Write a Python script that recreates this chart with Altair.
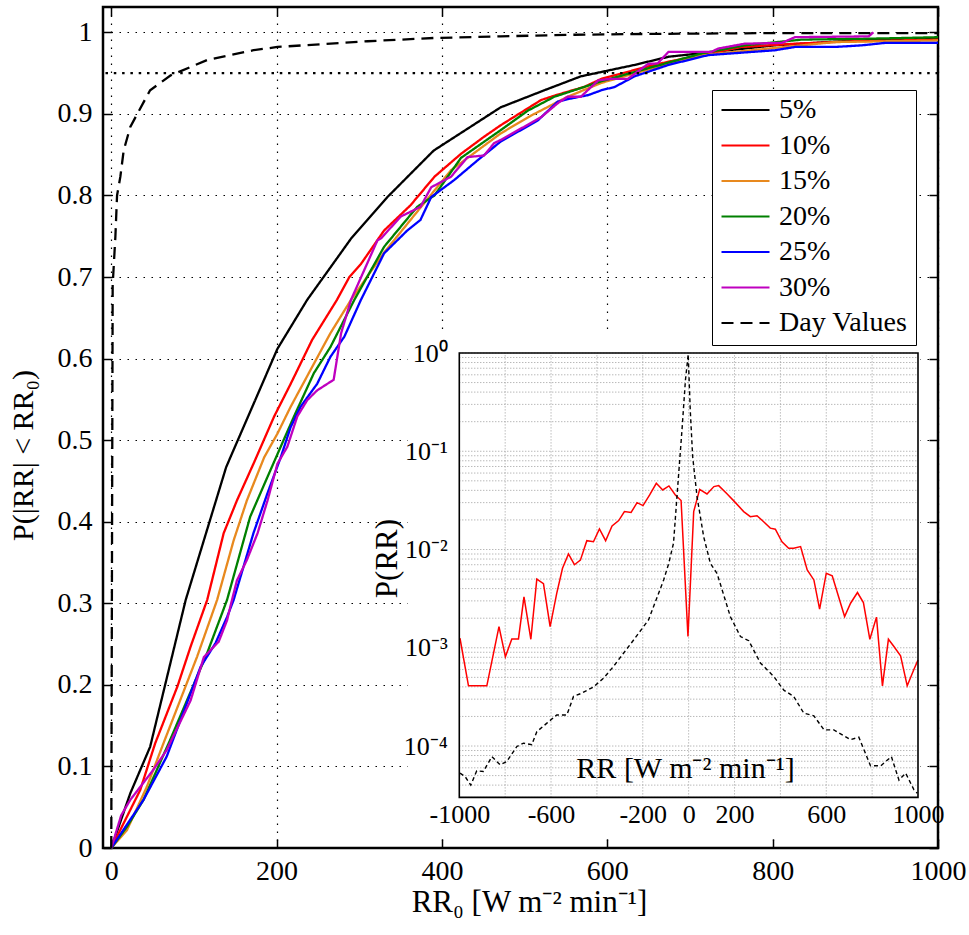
import altair as alt
import pandas as pd

FONT = "Liberation Serif"

# ---------------- main chart data: CDF of |RR| ----------------
series_names = ["5%", "10%", "15%", "20%", "25%", "30%", "Day Values"]
series_colors = ["#000000", "#ff0000", "#e8891e", "#008000", "#0000ff", "#bf00bf", "#000000"]
series_dashes = [[1, 0], [1, 0], [1, 0], [1, 0], [1, 0], [1, 0], [12, 7]]

s5_x = [0, 23, 47, 90, 139, 201, 237, 290, 334, 390, 471, 524, 568, 633, 674, 802, 900, 1000]
s5_p = [0, 0.067, 0.124, 0.304, 0.467, 0.612, 0.672, 0.747, 0.798, 0.855, 0.908, 0.929, 0.946,
        0.960, 0.970, 0.984, 0.990, 0.993]

s10_x = [0, 35, 53, 80, 96, 116, 136, 152, 172, 197, 217, 243, 273, 288, 302, 330, 362, 391, 423,
         451, 471, 520, 538, 572, 593, 645, 674, 714, 762, 827, 896, 1000]
s10_p = [0, 0.071, 0.128, 0.198, 0.247, 0.304, 0.386, 0.426, 0.471, 0.529, 0.569, 0.623, 0.672,
         0.700, 0.716, 0.757, 0.788, 0.823, 0.851, 0.872, 0.886, 0.917, 0.923, 0.933, 0.943,
         0.957, 0.964, 0.972, 0.982, 0.986, 0.989, 0.991]

s15_x = [0, 19, 43, 63, 104, 128, 148, 164, 185, 201, 217, 241, 265, 290, 330, 370, 411, 471, 508,
         552, 593, 645, 714, 795, 875, 1000]
s15_p = [0, 0.022, 0.075, 0.128, 0.235, 0.304, 0.377, 0.426, 0.479, 0.508, 0.541, 0.586, 0.631,
         0.672, 0.730, 0.780, 0.831, 0.876, 0.898, 0.921, 0.938, 0.953, 0.972, 0.980, 0.988, 0.990]

s20_x = [0, 19, 39, 71, 116, 140, 168, 189, 205, 221, 245, 265, 294, 330, 370, 391, 423, 471, 504,
         536, 593, 653, 714, 766, 835, 907, 958, 1000]
s20_p = [0, 0.026, 0.059, 0.132, 0.239, 0.304, 0.406, 0.455, 0.492, 0.529, 0.582, 0.614, 0.672,
         0.737, 0.786, 0.800, 0.846, 0.880, 0.904, 0.921, 0.940, 0.957, 0.974, 0.984, 0.991,
         0.992, 0.993, 0.994]

s25_x = [0, 39, 67, 108, 126, 140, 148, 172, 189, 205, 217, 229, 249, 265, 282, 302, 330, 358, 374,
         387, 415, 443, 471, 516, 540, 552, 577, 593, 609, 633, 674, 722, 803, 827, 875, 908, 936, 1000]
s25_p = [0, 0.059, 0.112, 0.222, 0.251, 0.283, 0.304, 0.386, 0.435, 0.479, 0.516, 0.541, 0.569,
         0.602, 0.627, 0.672, 0.729, 0.757, 0.770, 0.798, 0.819, 0.843, 0.866, 0.892, 0.915,
         0.918, 0.923, 0.929, 0.933, 0.946, 0.960, 0.972, 0.978, 0.982, 0.982, 0.984, 0.987, 0.987]

s30_x = [0, 12, 23, 51, 67, 96, 112, 130, 140, 146, 152, 164, 177, 189, 201, 213, 225, 237, 249,
         269, 278, 290, 322, 327, 350, 374, 387, 411, 431, 451, 463, 471, 520, 540, 552, 568, 589,
         605, 625, 637, 649, 661, 674, 726, 734, 766, 811, 827, 916, 922]
s30_p = [0, 0.040, 0.059, 0.096, 0.120, 0.181, 0.234, 0.253, 0.279, 0.304, 0.328, 0.353, 0.386,
         0.426, 0.471, 0.492, 0.529, 0.549, 0.561, 0.574, 0.631, 0.672, 0.745, 0.748, 0.774,
         0.786, 0.810, 0.823, 0.847, 0.849, 0.864, 0.868, 0.896, 0.913, 0.921, 0.921, 0.941,
         0.943, 0.943, 0.952, 0.961, 0.962, 0.976, 0.976, 0.980, 0.986, 0.987, 0.994, 0.995, 1.0]

day_x = [0, 1.7, 5, 7, 11, 15, 23, 31.5, 47, 71.5, 116, 172, 201, 310, 390, 471, 560, 650, 800, 1000]
day_p = [0, 0.69, 0.75, 0.80, 0.823, 0.855, 0.884, 0.90, 0.929, 0.947, 0.966, 0.978, 0.982,
         0.989, 0.993, 0.995, 0.997, 0.998, 0.999, 0.999]

main_x_ticks = [0, 200, 400, 600, 800, 1000]
main_y_ticks = [0, 0.1, 0.2, 0.3, 0.4, 0.5, 0.6, 0.7, 0.8, 0.9, 1.0]
ref_level = [0.95]

# ---------------- inset data: P(RR) ----------------
red_x = [-997, -960, -880, -827, -799, -771, -742, -718, -688, -662, -633, -604, -575, -550, -524,
         -498, -472, -444, -415, -389, -362, -334, -305, -280, -251, -225, -199, -170, -141, -113,
         -86, -58, -33, -3, 22, 48, 80, 110, 131, 168, 204, 240, 269, 298, 327, 356, 378, 407, 436,
         458, 488, 517, 546, 571, 600, 626, 680, 706, 736, 762, 790, 819, 845, 871, 895, 924, 953,
         982, 1000]
red_p = [1.25e-3, 4.1e-4, 4.1e-4, 1.64e-3, 8.1e-4, 1.23e-3, 1.23e-3, 3.3e-3, 1.22e-3, 5.0e-3,
         4.5e-3, 1.64e-3, 3.6e-3, 6.45e-3, 9.0e-3, 7.0e-3, 7.8e-3, 1.23e-2, 1.2e-2, 1.62e-2,
         1.23e-2, 1.74e-2, 1.97e-2, 2.43e-2, 2.38e-2, 3.0e-2, 2.8e-2, 3.59e-2, 4.72e-2, 4.04e-2,
         4.44e-2, 3.59e-2, 3.15e-2, 1.3e-3, 2.43e-2, 4.1e-2, 3.68e-2, 4.37e-2, 4.47e-2, 3.68e-2,
         3.0e-2, 2.43e-2, 2.16e-2, 2.21e-2, 1.92e-2, 1.65e-2, 1.61e-2, 1.2e-2, 1.03e-2, 1.03e-2,
         1.07e-2, 6.2e-3, 4.9e-3, 2.47e-3, 5.74e-3, 5.4e-3, 2.08e-3, 2.84e-3, 3.65e-3, 2.88e-3,
         1.22e-3, 2.05e-3, 4.1e-4, 1.22e-3, 1.03e-3, 8.3e-4, 4.1e-4, 6.0e-4, 7.5e-4]

blk_x = [-997, -975, -950, -924, -895, -858, -822, -793, -749, -720, -684, -662, -618, -575, -531,
         -502, -466, -415, -371, -328, -284, -240, -175, -109, -87, -66, -51, -29, -14, -2, 7, 17.5,
         36.6, 65.5, 95, 124, 182, 226, 262, 313, 371, 415, 458, 502, 546, 590, 633, 706, 742, 793,
         838, 884, 917, 946, 982, 997]
blk_p = [5.3e-5, 4.9e-5, 4.0e-5, 5.6e-5, 5.5e-5, 7.8e-5, 6.45e-5, 6.95e-5, 9.9e-5, 1.07e-4,
         1.03e-4, 1.4e-4, 1.71e-4, 2.07e-4, 2.07e-4, 3.2e-4, 3.45e-4, 4.0e-4, 4.9e-4, 6.45e-4,
         8.8e-4, 1.2e-3, 1.92e-3, 4.9e-3, 7.2e-3, 1.16e-2, 3.45e-2, 0.165, 0.53, 0.97, 0.263,
         0.088, 0.0345, 0.0135, 7.2e-3, 5.7e-3, 2.07e-3, 1.3e-3, 1.18e-3, 7.0e-4, 5.1e-4, 3.7e-4,
         3.2e-4, 2.16e-4, 2.03e-4, 1.46e-4, 1.46e-4, 1.16e-4, 1.23e-4, 6.3e-5, 6.3e-5, 7.8e-5,
         4.5e-5, 5.3e-5, 3.6e-5, 3.3e-5]

inset_x_domain = [-1000, 1000]
inset_y_domain = [3e-5, 1.0]
inset_x_labels = [-1000, -600, -200, 0, 200, 600, 1000]
inset_x_grid = [-800, -600, -400, -200, 0, 200, 400, 600, 800]
inset_y_labels = [1e-4, 1e-3, 1e-2, 1e-1, 1.0]
inset_y_grid = [m * 10.0 ** e for e in range(-5, 0) for m in range(1, 10) if m * 10.0 ** e >= 3e-5] + [1.0]
# white backing panel of the inset, in inset data units
inset_panel_x = [-1224, 1011]
inset_panel_y = [1.16e-5, 1.6]

# ---------------- layout ----------------
W, H = 835, 841

rows = []
for name, xs, ps in zip(series_names,
                        [s5_x, s10_x, s15_x, s20_x, s25_x, s30_x, day_x],
                        [s5_p, s10_p, s15_p, s20_p, s25_p, s30_p, day_p]):
    for xv, pv in zip(xs, ps):
        rows.append({"series": name, "rr0": xv, "p": pv})
cdf = pd.DataFrame(rows)

x_main = alt.Scale(domain=[-10, 1000], nice=False, zero=False)
y_main = alt.Scale(domain=[0, 1.031], nice=False, zero=False)

legend = alt.Legend(orient="none", legendX=609, legendY=83, direction="vertical", title=None,
                    strokeColor="black", fillColor="white", padding=8, symbolType="stroke",
                    symbolSize=2304, symbolStrokeWidth=2.2, labelFont=FONT, labelFontSize=28,
                    labelColor="black", labelOffset=8, clipHeight=24, rowPadding=7.5, labelLimit=400)

lines = alt.Chart(cdf).mark_line(strokeWidth=2.3).encode(
    x=alt.X("rr0:Q", scale=x_main,
            axis=alt.Axis(orient="bottom", values=main_x_ticks, format="d", labelFont=FONT,
                          labelFontSize=28, labelPadding=9, labelFlush=False, ticks=False,
                          tickSize=0, domain=False,
                          grid=True, gridDash=[1.5, 6.5], gridColor="black", gridWidth=1.2,
                          title="RR₀ [W m⁻² min⁻¹]", titleFont=FONT, titleFontSize=31,
                          titleX=426, titleY=63, titleBaseline="alphabetic")),
    y=alt.Y("p:Q", scale=y_main,
            axis=alt.Axis(orient="left", values=main_y_ticks, format=".1~f", labelFont=FONT,
                          labelFontSize=28, labelPadding=11, labelFlush=False, ticks=False,
                          tickSize=0, domain=False,
                          grid=True, gridDash=[1.5, 6.5], gridColor="black", gridWidth=1.2,
                          title="P(|RR| < RR₀)", titleFont=FONT, titleFontSize=30, titleX=-71,
                          titleY=448, titleAngle=270, titleBaseline="alphabetic")),
    color=alt.Color("series:N", scale=alt.Scale(domain=series_names, range=series_colors), legend=legend),
    strokeDash=alt.StrokeDash("series:N", scale=alt.Scale(domain=series_names, range=series_dashes), legend=legend),
)

ref = alt.Chart(pd.DataFrame({"p": ref_level})).mark_rule(
    strokeDash=[2.5, 5.8], strokeWidth=2.3, color="black"
).encode(y=alt.Y("p:Q", scale=y_main, axis=None))


def tick_axis(orient, values):
    return alt.Axis(orient=orient, offset=-9, tickSize=9, tickWidth=1.5, tickColor="black",
                    labels=False, domain=False, grid=False, values=values, title=None)


anchor = pd.DataFrame({"rr0": [0.0], "p": [0.0]})
ticks_bl = alt.Chart(anchor).mark_point(opacity=0).encode(
    x=alt.X("rr0:Q", scale=x_main, axis=tick_axis("bottom", main_x_ticks)),
    y=alt.Y("p:Q", scale=y_main, axis=tick_axis("left", main_y_ticks)),
)
ticks_tr = alt.Chart(anchor).mark_point(opacity=0).encode(
    x=alt.X("rr0:Q", scale=x_main, axis=tick_axis("top", main_x_ticks)),
    y=alt.Y("p:Q", scale=y_main, axis=tick_axis("right", main_y_ticks)),
)

main = alt.layer(lines, ref, ticks_bl, ticks_tr).resolve_axis(x="independent", y="independent")

# ---------------- inset ----------------
x_in = alt.Scale(domain=inset_x_domain, range=[356.3, 815.0], nice=False, zero=False)
y_in = alt.Scale(type="log", domain=inset_y_domain, range=[790.4, 346.0], nice=False)

panel = alt.Chart(pd.DataFrame({"x0": [inset_panel_x[0]], "x1": [inset_panel_x[1]],
                                "y0": [inset_panel_y[0]], "y1": [inset_panel_y[1]]})).mark_rect(
    color="white").encode(
    x=alt.X("x0:Q", scale=x_in, axis=None), x2="x1",
    y=alt.Y("y0:Q", scale=y_in, axis=None), y2="y1")

vgrid = alt.Chart(pd.DataFrame({"x": inset_x_grid, "y0": inset_y_domain[0], "y1": inset_y_domain[1]})).mark_rule(
    color="#9a9a9a", strokeDash=[1, 2], strokeWidth=1).encode(
    x=alt.X("x:Q", scale=x_in, axis=None),
    y=alt.Y("y0:Q", scale=y_in, axis=None), y2="y1")

hgrid = alt.Chart(pd.DataFrame({"y": inset_y_grid, "x0": inset_x_domain[0], "x1": inset_x_domain[1]})).mark_rule(
    color="#9a9a9a", strokeDash=[1, 2], strokeWidth=1).encode(
    y=alt.Y("y:Q", scale=y_in, axis=None),
    x=alt.X("x0:Q", scale=x_in, axis=None), x2="x1")

border = alt.Chart(pd.DataFrame({"x0": [inset_x_domain[0]], "x1": [inset_x_domain[1]],
                                 "y0": [inset_y_domain[0]], "y1": [inset_y_domain[1]]})).mark_rect(
    fill="white", fillOpacity=0, stroke="black", strokeWidth=1.6).encode(
    x=alt.X("x0:Q", scale=x_in, axis=None), x2="x1",
    y=alt.Y("y0:Q", scale=y_in, axis=None), y2="y1")

red = alt.Chart(pd.DataFrame({"rr": red_x, "pr": red_p})).mark_line(
    color="#ff0000", strokeWidth=1.5).encode(
    x=alt.X("rr:Q", scale=x_in, axis=None),
    y=alt.Y("pr:Q", scale=y_in, axis=None))

blk = alt.Chart(pd.DataFrame({"rr": blk_x, "pr": blk_p})).mark_line(
    color="black", strokeWidth=1.4, strokeDash=[4, 3]).encode(
    x=alt.X("rr:Q", scale=x_in, axis=None),
    y=alt.Y("pr:Q", scale=y_in, axis=None))

y_label_expr = ("datum.value > 0.5 ? '10⁰' : datum.value > 0.05 ? '10⁻¹' : "
                "datum.value > 0.005 ? '10⁻²' : datum.value > 0.0005 ? '10⁻³' : '10⁻⁴'")

inset_axes = alt.Chart(pd.DataFrame({"rr": [0.0], "pr": [0.01]})).mark_point(opacity=0).encode(
    x=alt.X("rr:Q", scale=x_in,
            axis=alt.Axis(orient="bottom", offset=-50.6, values=inset_x_labels,
                          labelExpr="'' + datum.value", labelFont=FONT, labelFontSize=26,
                          labelPadding=4, labelFlush=False,
                          ticks=False, tickSize=0, domain=False, grid=False, zindex=1,
                          title="RR [W m⁻² min⁻¹]", titleFont=FONT, titleFontSize=30,
                          titleX=582, titleY=-29, titleBaseline="middle")),
    y=alt.Y("pr:Q", scale=y_in,
            axis=alt.Axis(orient="left", offset=-356.3, values=inset_y_labels,
                          labelExpr=y_label_expr, labelFont=FONT, labelFontSize=26,
                          labelPadding=12, labelFlush=False,
                          ticks=False, tickSize=0, domain=False, grid=False, zindex=1,
                          title="P(RR)", titleFont=FONT, titleFontSize=31, titleX=-72, titleY=551,
                          titleAngle=270, titleBaseline="middle")),
)

inset = alt.layer(panel, vgrid, hgrid, red, blk, border, inset_axes).resolve_axis(
    x="independent", y="independent")

chart = alt.layer(main, inset).resolve_scale(
    x="independent", y="independent"
).properties(
    width=W, height=H,
    padding={"left": 103, "top": 7, "right": 31, "bottom": 87},
    autosize=alt.AutoSizeParams(type="none"),
    background="white",
).configure(
    font=FONT
).configure_view(
    stroke="black", strokeWidth=2.5
).configure_axis(
    labelFont=FONT, titleFont=FONT, labelColor="black", titleColor="black",
    titleFontWeight="normal"
).configure_legend(
    labelFont=FONT
)

chart.save("out.html", embed_options={"renderer": "svg", "actions": False})
